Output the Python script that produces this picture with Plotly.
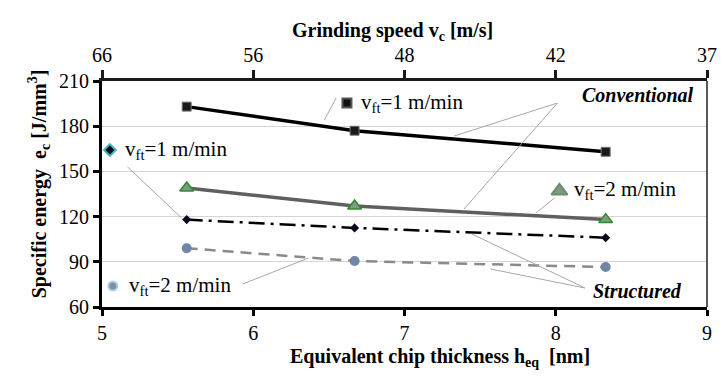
import plotly.graph_objects as go

# Equivalent chip thickness h_eq [nm] for the three grinding speeds
heq = [5.56, 6.67, 8.33]

# Specific energy e_c [J/mm^3]
conv_vft1 = [193, 177, 163]
conv_vft2 = [139, 127, 118]
struct_vft1 = [118, 112.5, 106]
struct_vft2 = [99, 90.5, 86.5]

# Bottom axis ticks and the matching grinding speeds on the top axis
x_ticks = [5, 6, 7, 8, 9]
vc_labels = ["66", "56", "48", "42", "37"]
y_ticks = [60, 90, 120, 150, 180, 210]

W, H = 722, 389
L, R, T, B = 102, 5, 81, 82
X0, X1 = 5, 9
Y0, Y1 = 60, 210
FONT = "Liberation Serif"
PW, PH = W - L - R, H - T - B


def dx(px):
    return X0 + (px - L) * (X1 - X0) / PW


def dy(py):
    return Y1 - (py - T) * (Y1 - Y0) / PH


def paper_x(px):
    return (px - L) / PW


def paper_y(py):
    return (H - B - py) / PH


fig = go.Figure()

fig.add_trace(go.Scatter(
    x=heq, y=conv_vft1, mode="lines+markers",
    line=dict(color="#000000", width=3.5),
    marker=dict(symbol="square", size=9, color="#1a1a1a", line=dict(color="#777777", width=1)),
))
fig.add_trace(go.Scatter(
    x=heq, y=conv_vft2, mode="lines+markers",
    line=dict(color="#5f5f5f", width=3.5),
    marker=dict(symbol="triangle-up", size=12, color="#7f9a82", line=dict(color="#2f8a2f", width=1.5)),
))
fig.add_trace(go.Scatter(
    x=heq, y=struct_vft1, mode="lines+markers",
    line=dict(color="#000000", width=2.5, dash="16px,6px,3px,6px"),
    marker=dict(symbol="diamond", size=7, color="#0a0a1e"),
))
fig.add_trace(go.Scatter(
    x=heq, y=struct_vft2, mode="lines+markers",
    line=dict(color="#8a8a8a", width=2.5, dash="11px,7px"),
    marker=dict(symbol="circle", size=10, color="#6f86a6"),
))

# key glyphs beside the series labels
keys = [
    (351, 103, "square", 9, "#111111", "#555555"),
    (567, 191, "triangle-up", 14, "#7c9a82", "#6b8c72"),
    (110, 150, "diamond", 9, "#0a0a1e", "#3fb5c0"),
    (113, 286, "circle", 9, "#7e8fa0", "#a9d2e6"),
]
for kx, ky, sym, sz, col, edge in keys:
    fig.add_trace(go.Scatter(
        x=[dx(kx)], y=[dy(ky)], mode="markers", cliponaxis=False,
        marker=dict(symbol=sym, size=sz, color=col, line=dict(color=edge, width=2)),
    ))

# invisible trace that carries the top axis
fig.add_trace(go.Scatter(x=[X0, X1], y=[Y0, Y0], xaxis="x2", mode="lines",
                         line=dict(width=0), hoverinfo="skip"))

# leader lines from the labels to the curves
leaders = [
    ((340, 98), (328, 120)),
    ((565, 103), (460, 136)),
    ((565, 103), (470, 209)),
    ((128, 167), (183, 218)),
    ((245, 284), (312, 258)),
    ((562, 198), (543, 213)),
    ((593, 288), (478, 234)),
    ((593, 288), (497, 269)),
]
for (ax_, ay_), (bx_, by_) in leaders:
    fig.add_shape(type="line", xref="x", yref="y",
                  x0=dx(ax_), y0=dy(ay_), x1=dx(bx_), y1=dy(by_),
                  line=dict(color="#a8a8a8", width=1))

# right frame edge
fig.add_shape(type="line", xref="paper", yref="paper", x0=1, x1=1, y0=0, y1=1,
              line=dict(color="#222222", width=1.5))

labels = [
    (363, 103, "v<sub>ft</sub>=1 m/min"),
    (123, 150, "v<sub>ft</sub>=1 m/min"),
    (127, 286, "v<sub>ft</sub>=2 m/min"),
    (580, 190, "v<sub>ft</sub>=2 m/min"),
]
for lx, ly, txt in labels:
    fig.add_annotation(x=dx(lx), y=dy(ly), text=txt, showarrow=False,
                       xanchor="left", font=dict(family=FONT, size=21, color="#000000"))

fig.add_annotation(x=dx(706), y=dy(95), text="<b><i>Conventional</i></b>", showarrow=False,
                   xanchor="right", font=dict(family=FONT, size=20, color="#000000"))
fig.add_annotation(x=dx(694), y=dy(291), text="<b><i>Structured</i></b>", showarrow=False,
                   xanchor="right", font=dict(family=FONT, size=20, color="#000000"))

# axis titles
title_font = dict(family=FONT, size=20, color="#000000")
fig.add_annotation(xref="paper", yref="paper", x=paper_x(397), y=paper_y(17),
                   text="<b>Grinding speed v<sub>c</sub> [m/s]</b>", showarrow=False,
                   font=title_font)
fig.add_annotation(xref="paper", yref="paper", x=paper_x(446), y=paper_y(372),
                   text="<b>Equivalent chip thickness h<sub>eq</sub>  [nm]</b>", showarrow=False,
                   font=title_font)
fig.add_annotation(xref="paper", yref="paper", x=paper_x(22), y=paper_y(184),
                   text="<b>Specific energy  e<sub>c</sub> [J/mm<sup>3</sup>]</b>", showarrow=False,
                   textangle=-90, font=title_font)

tick_font = dict(family=FONT, size=20, color="#000000")

fig.update_layout(
    width=W, height=H,
    margin=dict(l=L, r=R, t=T, b=B),
    paper_bgcolor="white", plot_bgcolor="white",
    showlegend=False,
    xaxis=dict(
        range=[X0, X1], tickvals=x_ticks,
        showgrid=False, zeroline=False,
        showline=True, linecolor="#000000", linewidth=3,
        ticks="outside", ticklen=6, tickwidth=3, tickcolor="#000000",
        tickfont=tick_font,
    ),
    xaxis2=dict(
        range=[X0, X1], overlaying="x", side="top", anchor="y",
        tickvals=x_ticks, ticktext=vc_labels,
        showgrid=False, zeroline=False,
        showline=True, linecolor="#1a1a1a", linewidth=2.5,
        ticks="outside", ticklen=8, tickwidth=2.5, tickcolor="#1a1a1a",
        tickfont=tick_font,
    ),
    yaxis=dict(
        range=[Y0, Y1], tickvals=y_ticks,
        showgrid=True, gridcolor="#d4d4d4", gridwidth=1, zeroline=False,
        showline=True, linecolor="#000000", linewidth=3,
        ticks="outside", ticklen=6, tickwidth=3, tickcolor="#000000",
        tickfont=tick_font,
    ),
)

fig.write_html("out.html")
